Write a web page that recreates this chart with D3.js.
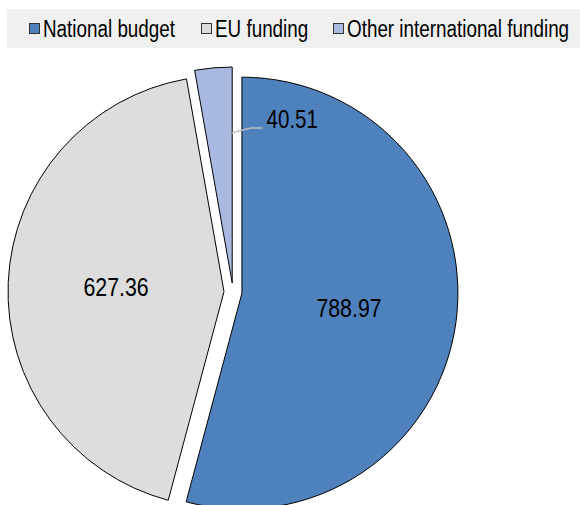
<!DOCTYPE html>
<html>
<head>
<meta charset="utf-8">
<script src="https://cdn.jsdelivr.net/npm/d3@7"></script>
<style>
  html, body { margin: 0; padding: 0; background: #ffffff; }
  svg { display: block; }
  text { font-family: "Liberation Sans Narrow", "Arial Narrow", "Liberation Sans", Arial, sans-serif; fill: #000; }
</style>
</head>
<body>
<svg id="chart" width="580" height="505"></svg>
<script>
// Funding sources
const categories = ["National budget", "EU funding", "Other international funding"];
const values = [788.97, 627.36, 40.51];
const valueLabels = ["788.97", "627.36", "40.51"];
const colors = ["#4f81bd", "#dddddd", "#a9b9e2"];

const W = 580, H = 505;
const cx = 233, cy = 292, R = 216, explode = 9;
const narrow = 0.82; // horizontal squeeze giving a condensed sans face

const svg = d3.select("#chart");

// Draws text condensed horizontally around its anchor point
function narrowText(parent, x, y, str, size, anchor) {
  return parent.append("text")
    .attr("transform", `translate(${x},${y}) scale(${narrow},1)`)
    .attr("text-anchor", anchor || "start")
    .attr("font-size", size)
    .text(str);
}

// Legend band
const legend = svg.append("g");
legend.append("rect")
  .attr("x", 7).attr("y", 9).attr("width", W - 7).attr("height", 39)
  .attr("fill", "#f0f0f0");

const legendX = [29, 201, 333];
categories.forEach((c, i) => {
  const g = legend.append("g").attr("transform", `translate(${legendX[i]},23)`);
  g.append("rect").attr("x", 0.5).attr("y", 0.5).attr("width", 10).attr("height", 10)
    .attr("fill", colors[i]).attr("stroke", "#333").attr("stroke-width", 1);
  narrowText(g, 14, 14, c, 23);
});

// Pie
const data = categories.map((c, i) => ({ name: c, value: values[i], label: valueLabels[i], color: colors[i] }));
const pie = d3.pie().value(d => d.value).sort(null);
const arcs = pie(data);
const arc = d3.arc().innerRadius(0).outerRadius(R);

const plot = svg.append("g").attr("transform", `translate(${cx},${cy})`);

arcs.forEach(a => {
  const mid = (a.startAngle + a.endAngle) / 2;
  const [ox, oy] = d3.pointRadial(mid, explode);
  plot.append("path")
    .attr("transform", `translate(${ox},${oy})`)
    .attr("d", arc(a))
    .attr("fill", a.data.color).attr("stroke", "#000").attr("stroke-width", 1)
    .attr("stroke-linejoin", "miter");
  a.offset = [ox, oy];
});

// Value labels: large slices inside at the centroid, the small slice outside with a leader
arcs.forEach(a => {
  const [ox, oy] = a.offset;
  if (a.endAngle - a.startAngle > 0.5) {
    const [lx, ly] = arc.centroid(a);
    narrowText(plot, ox + lx, oy + ly + 9.5, a.data.label, 26, "middle");
  } else {
    const [sx, sy] = d3.pointRadial(a.endAngle - 0.004, 150);
    const p0 = [ox + sx, oy + sy];
    const p1 = [p0[0] + 19, p0[1] - 5];
    const p2 = [p1[0] + 12, p1[1]];
    plot.append("polyline")
      .attr("points", [p0, p1, p2].map(p => p.join(",")).join(" "))
      .attr("fill", "none").attr("stroke", "#bfbfbf").attr("stroke-width", 1.5);
    narrowText(plot, p2[0] + 4, p2[1], a.data.label, 25);
  }
});
</script>
</body>
</html>
